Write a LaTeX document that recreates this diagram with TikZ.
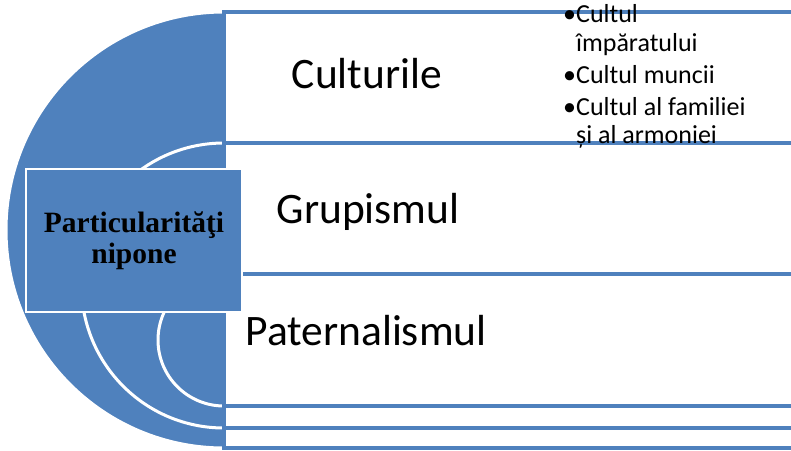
\documentclass[tikz,border=0pt]{standalone}
\usepackage{fontspec}
\newfontfamily\calib{Carlito}
\newfontfamily\timesf{Liberation Serif}
\definecolor{accblue}{HTML}{4F81BD}
\begin{document}
\begin{tikzpicture}[x=1pt,y=-1pt,
  disc/.style={fill=accblue, draw=white, line width=3pt},
  rowbox/.style={fill=white, draw=accblue, line width=4.5pt},
  hub/.style={fill=accblue, draw=white, line width=2pt, minimum width=216pt,
    minimum height=143pt, align=center, font=\timesf\bfseries\fontsize{29.5}{31}\selectfont},
  bigtext/.style={font=\calib\fontsize{43.5}{52}\selectfont, anchor=base, inner sep=0pt},
  smalltext/.style={font=\calib\fontsize{26}{30}\selectfont, anchor=base west, inner sep=0pt}]
\clip (0,0) rectangle (791,450);
% nested half discs and their rows
\foreach \t/\b in {12/448, 143/428, 274/406}{
  \pgfmathsetmacro{\r}{(\b-\t)/2}
  \draw[disc] (224,\t) arc[start angle=270, end angle=90, radius=\r] -- cycle;
  \draw[rowbox] (224,\t) rectangle (830,\b);
}
\node[hub] (hub) at (134,240.5) {Particularităţi\\nipone};
\node[bigtext] (cult) at (367,88) {Culturile};
\node[bigtext] (grup) at (368,223) {Grupismul};
\node[bigtext] (pat) at (366,345) {Paternalismul};
% bullets
\foreach \yy/\txt [count=\i] in {22/•Cultul, 51/\phantom{•}împăratului, 83/•Cultul muncii,
    115/•Cultul al familiei, 143/\phantom{•}și al armoniei}{
  \node[smalltext] (item\i) at (563,\yy) {\txt};
}
\end{tikzpicture}
\end{document}
